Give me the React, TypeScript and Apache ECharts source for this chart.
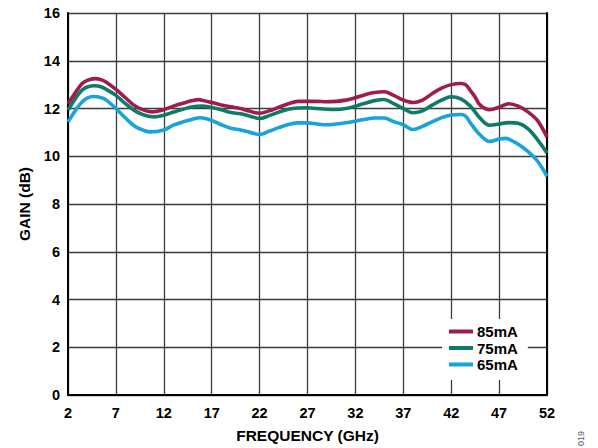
import React, { useEffect, useRef } from "react";
import * as echarts from "echarts";

const freq85 = [2, 2.5, 3, 3.5, 4, 4.8, 5.5, 6, 7, 8, 9, 10, 10.8, 12, 13, 14, 15, 15.6, 16, 17, 18, 19, 20, 21, 22, 23, 24, 25, 26, 27, 28, 29, 30, 31, 32, 33, 34, 35, 36, 37, 38, 39, 40, 41, 42, 43, 43.5, 44, 44.5, 45, 46, 47, 48, 49, 50, 51, 52];
const gain85 = [12.2, 12.5, 12.8, 13.05, 13.18, 13.25, 13.2, 13.1, 12.8, 12.45, 12.1, 11.92, 11.86, 11.95, 12.1, 12.22, 12.33, 12.37, 12.35, 12.25, 12.15, 12.07, 12.0, 11.88, 11.8, 11.9, 12.05, 12.2, 12.3, 12.3, 12.3, 12.28, 12.3, 12.35, 12.45, 12.58, 12.67, 12.7, 12.55, 12.35, 12.25, 12.35, 12.62, 12.85, 13.0, 13.05, 13.0, 12.75, 12.48, 12.15, 11.95, 12.05, 12.2, 12.1, 11.86, 11.5, 10.8];

const freq75 = [2, 2.5, 3, 3.5, 4, 4.8, 5.5, 6, 7, 8, 9, 10, 11, 12, 13, 14, 15, 16, 17, 18, 19, 20, 21, 22, 23, 24, 25, 26, 27, 28, 29, 30, 31, 32, 33, 34, 35, 36, 37, 38, 39, 40, 41, 42, 43, 44, 45, 46, 47, 48, 49, 50, 51, 52];
const gain75 = [11.93, 12.25, 12.55, 12.78, 12.9, 12.95, 12.9, 12.8, 12.55, 12.2, 11.9, 11.72, 11.65, 11.72, 11.85, 11.97, 12.07, 12.1, 12.04, 11.95, 11.83, 11.78, 11.68, 11.58, 11.7, 11.85, 11.97, 12.02, 12.03, 12.0, 11.97, 11.96, 12.0, 12.1, 12.22, 12.33, 12.38, 12.2, 12.0, 11.82, 11.9, 12.14, 12.35, 12.49, 12.4, 12.1, 11.6, 11.3, 11.35, 11.41, 11.38, 11.16, 10.7, 10.14];

const freq65 = [2, 2.5, 3, 3.5, 4, 4.6, 5.5, 6, 7, 8, 9, 10, 10.6, 12, 13, 14, 15, 15.8, 17, 18, 19, 20, 21, 22, 23, 24, 25, 26, 27, 28, 29, 30, 31, 32, 33, 34, 35, 36, 37, 38, 39, 40, 41, 42, 43, 43.5, 44, 45, 46, 47, 47.7, 48, 49, 50, 51, 52];
const gain65 = [11.44, 11.75, 12.05, 12.28, 12.43, 12.5, 12.45, 12.35, 12.0, 11.6, 11.25, 11.07, 11.02, 11.1, 11.3, 11.44, 11.55, 11.61, 11.5, 11.32, 11.17, 11.1, 11.0, 10.91, 11.05, 11.2, 11.33, 11.4, 11.4, 11.35, 11.32, 11.35, 11.4, 11.47, 11.55, 11.6, 11.6, 11.45, 11.32, 11.12, 11.25, 11.44, 11.62, 11.73, 11.75, 11.68, 11.4, 10.9, 10.62, 10.72, 10.75, 10.72, 10.5, 10.2, 9.8, 9.16];

const seriesNames = ["85mA", "75mA", "65mA"];
const seriesColors = ["#A01C4C", "#0E7A6A", "#19A3DB"];

const FONT = 'Arial, "Liberation Sans", Helvetica, sans-serif';

function pairs(xs: number[], ys: number[]) {
  return xs.map((x, i) => [x, ys[i]]);
}

export default function App() {
  const ref = useRef<HTMLDivElement>(null);
  useEffect(() => {
    document.body.style.margin = "0";
    const chart = echarts.init(ref.current!, null, { renderer: "svg" });
    const datasets = [pairs(freq85, gain85), pairs(freq75, gain75), pairs(freq65, gain65)];
    const gridLine = { show: true, lineStyle: { color: "#3c3c3c", width: 1.3 } };
    chart.setOption({
      animation: false,
      backgroundColor: "#fff",
      grid: { left: 68, right: 51, top: 13, bottom: 52 },
      xAxis: [
        {
          type: "value",
          min: 2,
          max: 52,
          interval: 5,
          name: "FREQUENCY (GHz)",
          nameLocation: "middle",
          nameGap: 32,
          nameTextStyle: { fontFamily: FONT, fontWeight: "bold", fontSize: 15.5, color: "#000" },
          axisLine: { show: true, lineStyle: { color: "#000", width: 2 } },
          axisTick: { show: false },
          axisLabel: { fontFamily: FONT, fontWeight: "bold", fontSize: 14.5, color: "#000", margin: 10 },
          splitLine: gridLine,
        },
        {
          type: "value",
          position: "top",
          min: 2,
          max: 52,
          interval: 5,
          axisLine: { show: true, lineStyle: { color: "#000", width: 2 } },
          axisTick: { show: false },
          axisLabel: { show: false },
          splitLine: { show: false },
        },
      ],
      yAxis: [
        {
          type: "value",
          min: 0,
          max: 16,
          interval: 2,
          name: "GAIN (dB)",
          nameLocation: "middle",
          nameGap: 36,
          nameTextStyle: { fontFamily: FONT, fontWeight: "bold", fontSize: 15.5, color: "#000" },
          axisLine: { show: true, lineStyle: { color: "#000", width: 2 } },
          axisTick: { show: false },
          axisLabel: { fontFamily: FONT, fontWeight: "bold", fontSize: 14.5, color: "#000", margin: 8 },
          splitLine: gridLine,
        },
        {
          type: "value",
          position: "right",
          min: 0,
          max: 16,
          interval: 2,
          axisLine: { show: true, lineStyle: { color: "#000", width: 2 } },
          axisTick: { show: false },
          axisLabel: { show: false },
          splitLine: { show: false },
        },
      ],
      legend: {
        show: true,
        orient: "vertical",
        left: 442,
        top: 319,
        backgroundColor: "#fff",
        padding: [5, 10, 8, 7],
        itemGap: 1.5,
        itemWidth: 24,
        itemHeight: 4,
        icon: "rect",
        textStyle: { fontFamily: FONT, fontWeight: "bold", fontSize: 15, color: "#000", padding: [0, 0, 0, -1] },
        data: seriesNames,
      },
      series: datasets.map((d, i) => ({
        type: "line",
        name: seriesNames[i],
        data: d,
        xAxisIndex: 0,
        yAxisIndex: 0,
        smooth: 0.35,
        showSymbol: false,
        symbol: "none",
        color: seriesColors[i],
        lineStyle: { color: seriesColors[i], width: 3.6 },
        z: 5 - i,
      })),
      graphic: [
        {
          type: "text",
          x: 576,
          y: 446,
          rotation: Math.PI / 2,
          style: { text: "019", fontFamily: FONT, fontSize: 9, fill: "#555" },
        },
      ],
    });
    return () => chart.dispose();
  }, []);
  return <div ref={ref} style={{ width: 598, height: 448 }} />;
}
